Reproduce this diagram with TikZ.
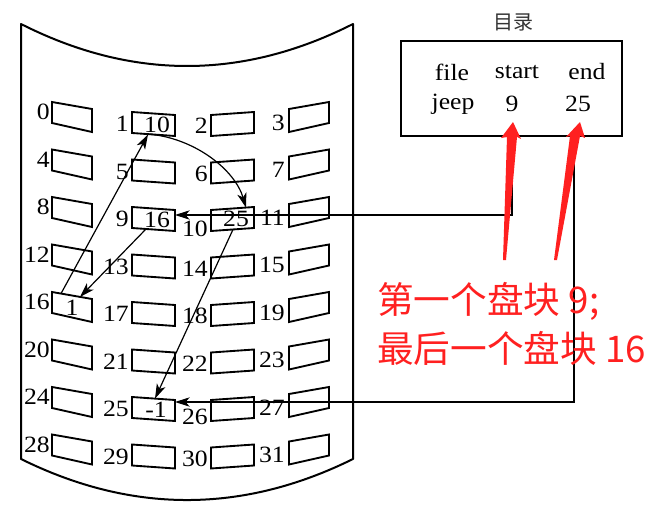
\documentclass[tikz,border=0pt]{standalone}
\usepackage{fontspec}
\setmainfont{Liberation Serif}[FakeStretch=1.1]
\newfontfamily\cjk{Noto Sans CJK SC}
\usetikzlibrary{arrows.meta,calc}
\definecolor{redtxt}{RGB}{255,32,32}
\begin{document}
\begin{tikzpicture}[x=0.75pt,y=-0.75pt,
  outline/.style={line width=1.5pt,line join=round},
  blockline/.style={line width=1.4pt,line join=miter},
  lbl/.style={inner sep=0pt,font=\fontsize{17.5}{20}\selectfont},
  conn/.style={line width=0.9pt,-{Stealth[length=11pt,width=7pt,inset=3pt]}},
  redarrow/.style={fill=redtxt,draw=none},
  redlabel/.style={inner sep=0pt,anchor=west,text=redtxt,font=\cjk\fontsize{27.5}{31}\selectfont}]
\useasboundingbox (0,0) rectangle (657,517);
% disk outline
\draw[outline] (21,24) .. controls (131.7,80) and (242.3,80) .. (353,24) -- (353,459)
  .. controls (242.3,513.7) and (131.7,513.7) .. (21,459) -- cycle;
% blocks
\foreach \r in {0,...,7}{
 \foreach \c in {0,...,3}{
  \pgfmathtruncatemacro{\n}{4*\r+\c}
  \pgfmathsetmacro{\T}{102+47.5*\r}
  \ifcase\c
    \coordinate (blk\n) at (52,\T);
    \draw[blockline] (blk\n) -- ++(40,7) -- ++(0,23) -- ++(-40,-9) -- cycle;
    \node[lbl,anchor=east] (lab\n) at (50,\T+10) {\n};
  \or
    \coordinate (blk\n) at (132,\T+10);
    \draw[blockline] (blk\n) -- ++(43,3) -- ++(0,21) -- ++(-43,-3) -- cycle;
    \node[lbl,anchor=east] (lab\n) at (129,\T+22) {\n};
  \or
    \coordinate (blk\n) at (211,\T+13);
    \draw[blockline] (blk\n) -- ++(43,-3) -- ++(0,21) -- ++(-43,3) -- cycle;
    \pgfmathsetmacro{\dy}{(\n==10)?32:((\n==26)?30:24)}
    \node[lbl,anchor=east] (lab\n) at (208,\T+\dy) {\n};
  \or
    \coordinate (blk\n) at (289,\T+7);
    \draw[blockline] (blk\n) -- ++(40,-7) -- ++(0,21) -- ++(-40,9) -- cycle;
    \node[lbl,anchor=east] (lab\n) at (285,\T+20.5) {\n};
  \fi
 }
}
% block contents
\node[lbl] (v1) at (157,125) {10};
\node[lbl] (v9) at (157,220) {16};
\node[lbl] (v10) at (236,219) {25};
\node[lbl] (v16) at (72,308) {1};
\node[lbl] (v25) at (156,410) {-1};
% directory
\node[draw,line width=1.8pt,outer sep=0pt,inner sep=0pt,minimum width=165.75pt,minimum height=71.25pt] (dir) at (511.5,88.5) {};
\node[inner sep=0pt,text=black!80,font=\cjk\fontsize{15}{17}\selectfont] (title) at (513,22) {目录};
\node[lbl] (hfile) at (452,72) {file};
\node[lbl] (hstart) at (517,72) {start};
\node[lbl] (hend) at (587,72) {end};
\node[lbl] (rjeep) at (453,104) {jeep};
\node[lbl] (rstart) at (512,104) {9};
\node[lbl] (rend) at (578,104) {25};
% connectors
\coordinate (dstart) at ($(dir.south west)+(111,0)$);
\coordinate (dend) at ($(dir.south west)+(173,0)$);
\draw[conn] (dstart) |- ($(blk9)+(43,8)$);
\draw[conn] (dend) |- ($(blk25)+(43,5)$);
\draw[conn] ($(blk1)+(16,22)$) .. controls (195,138) and (235,170) .. ($(blk10)+(35,-2.4)$);
\draw[conn] ($(blk16)+(9,1.6)$) -- ($(blk1)+(16,22.5)$);
\draw[conn] ($(blk9)+(14,22)$) -- ($(blk16)+(28,5)$);
\draw[conn] ($(blk10)+(22,19.5)$) -- ($(blk25)+(23,1.6)$);
% red arrows
\path[redarrow] (513,122) -- (521,139) -- (517,137) -- (506,260) -- (503,260) -- (507,137) -- (501,138) -- cycle;
\path[redarrow] (580,122) -- (585,138) -- (580,136) -- (557,260) -- (554,260) -- (570,136) -- (566,137) -- cycle;
% red text
\node[redlabel] (red1) at (377,301) {第一个盘块 9;};
\node[redlabel] (red2) at (377,348) {最后一个盘块 16};
\end{tikzpicture}
\end{document}
